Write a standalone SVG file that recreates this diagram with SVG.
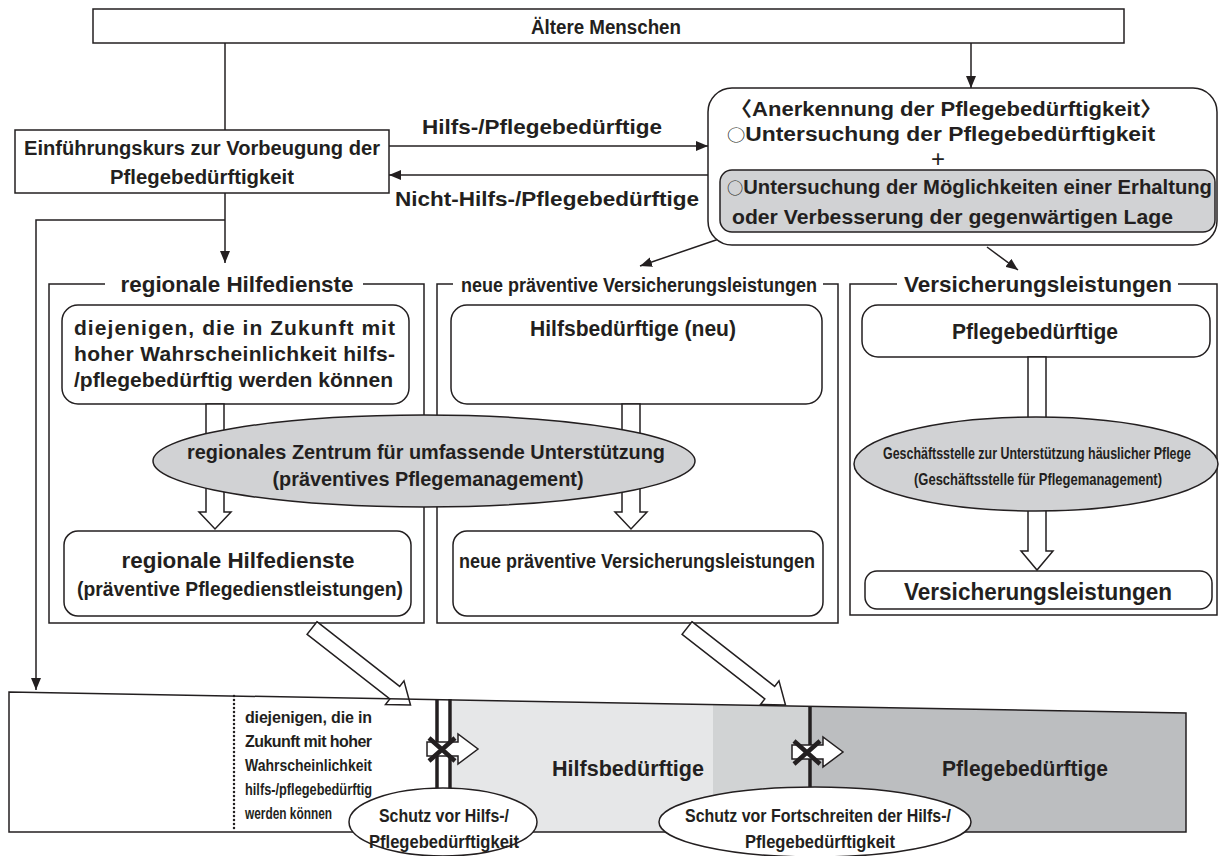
<svg xmlns="http://www.w3.org/2000/svg" width="1219" height="856" viewBox="0 0 1219 856">
  <style>
    .t { font-family: "Liberation Sans", Arial, "Noto Sans CJK JP", sans-serif; font-weight: bold; fill: #231f20; }
    .m { text-anchor: middle; }
    .ring { font-family: "Noto Sans CJK JP", sans-serif; font-weight: normal; font-size: 16px; }
    .box { fill: #ffffff; stroke: #231f20; stroke-width: 1.5; }
    .gray { fill: #d1d2d4; stroke: #231f20; stroke-width: 1.5; }
    .frame { fill: none; stroke: #231f20; stroke-width: 1.5; }
    .conn { fill: none; stroke: #231f20; stroke-width: 1.5; }
    .hollow { fill: #ffffff; stroke: #231f20; stroke-width: 1.5; stroke-linejoin: miter; }
    .bar { stroke: #231f20; stroke-width: 3.5; }
  </style>
  <defs>
    <marker id="ah" viewBox="0 0 12 10" refX="12" refY="5" markerWidth="12" markerHeight="10" markerUnits="userSpaceOnUse" orient="auto">
      <path d="M0,0 L12,5 L0,10 z" fill="#231f20"/>
    </marker>
    <!-- blocked transition: white block arrow crossed out -->
    <g id="blocked">
      <path class="hollow" d="M-15,-7 H16 V-15 L36,0 L16,15 V7 H-15 Z"/>
      <path d="M-13,-11 L13,12 M-13,12 L13,-11" stroke="#231f20" stroke-width="4.5" fill="none"/>
    </g>
    <!-- diagonal hollow arrow, length 125 -->
    <path id="diag" d="M0,-8 L105,-8 L105,-15 L125,0 L105,15 L105,8 L0,8 Z"/>
  </defs>

  <!-- connectors -->
  <g id="connectors">
    <line class="conn" x1="225" y1="43" x2="225" y2="130"/>
    <line class="conn" x1="971" y1="43" x2="971" y2="88" marker-end="url(#ah)"/>
    <line class="conn" x1="389" y1="146" x2="708" y2="146" marker-end="url(#ah)"/>
    <line class="conn" x1="708" y1="175" x2="389" y2="175" marker-end="url(#ah)"/>
    <line class="conn" x1="225" y1="193" x2="225" y2="263" marker-end="url(#ah)"/>
    <path class="conn" d="M225,220 H36 V690" marker-end="url(#ah)"/>
    <line class="conn" x1="719" y1="239" x2="640" y2="266" marker-end="url(#ah)"/>
    <line class="conn" x1="987" y1="247" x2="1018" y2="270" marker-end="url(#ah)"/>
    <text class="t m" x="542" y="134" font-size="21" textLength="240" lengthAdjust="spacingAndGlyphs">Hilfs-/Pflegebedürftige</text>
    <text class="t m" x="547" y="206" font-size="21" textLength="304" lengthAdjust="spacingAndGlyphs">Nicht-Hilfs-/Pflegebedürftige</text>
  </g>

  <!-- top node -->
  <g id="aeltere">
    <rect class="box" x="93" y="9" width="1031" height="34"/>
    <text class="t m" x="606" y="34" font-size="20" textLength="150" lengthAdjust="spacingAndGlyphs">Ältere Menschen</text>
  </g>

  <g id="einfuehrungskurs">
    <rect class="box" x="15" y="130" width="374" height="63"/>
    <text class="t m" x="202" y="155" font-size="20" textLength="356" lengthAdjust="spacingAndGlyphs">Einführungskurs zur Vorbeugung der</text>
    <text class="t m" x="202" y="184" font-size="20" textLength="184" lengthAdjust="spacingAndGlyphs">Pflegebedürftigkeit</text>
  </g>

  <g id="anerkennung">
    <rect class="box" x="708" y="88" width="509" height="157" rx="24"/>
    <text class="t" x="730" y="116" font-size="20" textLength="432" lengthAdjust="spacingAndGlyphs">〈Anerkennung der Pflegebedürftigkeit〉</text>
    <text class="t" x="727" y="141" font-size="20" textLength="428" lengthAdjust="spacingAndGlyphs"><tspan class="ring">○</tspan>Untersuchung der Pflegebedürftigkeit</text>
    <text class="m" x="938" y="167" font-size="24" font-weight="normal" font-family="Liberation Sans, sans-serif" fill="#231f20">+</text>
    <rect class="gray" x="720" y="170" width="495" height="62" rx="12" fill="#d4d4d4"/>
    <text class="t" x="727" y="194" font-size="20" textLength="485" lengthAdjust="spacingAndGlyphs"><tspan class="ring">○</tspan>Untersuchung der Möglichkeiten einer Erhaltung</text>
    <text class="t" x="732" y="224" font-size="20" textLength="441" lengthAdjust="spacingAndGlyphs">oder Verbesserung der gegenwärtigen Lage</text>
  </g>

  <!-- section frames -->
  <g id="frame-regional">
    <path class="frame" d="M105,284 H49 V623 H424 V284 H363"/>
    <text class="t m" x="237" y="292" font-size="22" textLength="233" lengthAdjust="spacingAndGlyphs">regionale Hilfedienste</text>
    <rect class="box" x="62" y="305" width="347" height="99" rx="16"/>
    <text class="t" x="74" y="335" font-size="21" textLength="321" lengthAdjust="spacing">diejenigen, die in Zukunft mit</text>
    <text class="t" x="74" y="361" font-size="21" textLength="321" lengthAdjust="spacing">hoher Wahrscheinlichkeit hilfs-</text>
    <text class="t" x="74" y="387" font-size="21" textLength="319" lengthAdjust="spacingAndGlyphs">/pflegebedürftig werden können</text>
    <path class="hollow" d="M206,404 V512 H199 L215,529 L231,512 H224 V404 Z"/>
    <rect class="box" x="64" y="531" width="347" height="85" rx="14"/>
    <text class="t m" x="238" y="568" font-size="22" textLength="233" lengthAdjust="spacingAndGlyphs">regionale Hilfedienste</text>
    <text class="t m" x="240" y="596" font-size="20" textLength="326" lengthAdjust="spacingAndGlyphs">(präventive Pflegedienstleistungen)</text>
  </g>

  <g id="frame-neu">
    <path class="frame" d="M453,284 H437 V623 H838 V284 H823"/>
    <text class="t m" x="639" y="292" font-size="20" textLength="356" lengthAdjust="spacingAndGlyphs">neue präventive Versicherungsleistungen</text>
    <rect class="box" x="451" y="305" width="371" height="99" rx="16"/>
    <text class="t m" x="633" y="336" font-size="22" textLength="206" lengthAdjust="spacingAndGlyphs">Hilfsbedürftige (neu)</text>
    <path class="hollow" d="M622,404 V512 H615 L631,529 L647,512 H640 V404 Z"/>
    <rect class="box" x="453" y="531" width="370" height="85" rx="14"/>
    <text class="t m" x="637" y="568" font-size="20" textLength="356" lengthAdjust="spacingAndGlyphs">neue präventive Versicherungsleistungen</text>
  </g>

  <g id="frame-versicherung">
    <path class="frame" d="M897,284 H850 V615 H1217 V284 H1178"/>
    <text class="t m" x="1038" y="292" font-size="22" textLength="268" lengthAdjust="spacingAndGlyphs">Versicherungsleistungen</text>
    <rect class="box" x="862" y="305" width="348" height="52" rx="16"/>
    <text class="t m" x="1035" y="339" font-size="22" textLength="166" lengthAdjust="spacingAndGlyphs">Pflegebedürftige</text>
    <path class="hollow" d="M1028,357 V551 H1021 L1037,570 L1053,551 H1046 V357 Z"/>
    <rect class="box" x="865" y="571" width="347" height="38" rx="12"/>
    <text class="t m" x="1038" y="600" font-size="23" textLength="268" lengthAdjust="spacingAndGlyphs">Versicherungsleistungen</text>
  </g>

  <!-- care management centres -->
  <g id="zentrum">
    <ellipse class="gray" cx="424" cy="461" rx="271" ry="46"/>
    <text class="t m" x="426" y="459" font-size="21" textLength="478" lengthAdjust="spacingAndGlyphs">regionales Zentrum für umfassende Unterstützung</text>
    <text class="t m" x="428" y="486" font-size="21" textLength="311" lengthAdjust="spacingAndGlyphs">(präventives Pflegemanagement)</text>
  </g>

  <g id="geschaeftsstelle">
    <ellipse class="gray" cx="1036" cy="464" rx="182" ry="47"/>
    <text class="t m" x="1037" y="459" font-size="17" textLength="308" lengthAdjust="spacingAndGlyphs">Geschäftsstelle zur Unterstützung häuslicher Pflege</text>
    <text class="t m" x="1038" y="485" font-size="17" textLength="248" lengthAdjust="spacingAndGlyphs">(Geschäftsstelle für Pflegemanagement)</text>
  </g>

  <!-- diagonal hollow arrows into the bar -->
  <g id="flow-arrows">
    <use href="#diag" class="hollow" transform="translate(312,628) rotate(38)"/>
    <use href="#diag" class="hollow" transform="translate(687,628) rotate(38)"/>
  </g>

  <!-- state bar -->
  <g id="state-bar">
    <polygon points="452,699.9 713,704.6 713,832 452,832" fill="#e6e7e8"/>
    <polygon points="713,704.6 811,706.3 811,832 713,832" fill="#d1d3d4"/>
    <polygon points="811,706.3 1186,713 1186,832 811,832" fill="#bcbec0"/>
    <polygon points="9,692 1186,713 1186,832 9,832" fill="none" stroke="#231f20" stroke-width="1.5"/>
    <line x1="234" y1="696" x2="234" y2="832" stroke="#231f20" stroke-width="2.5" stroke-dasharray="0 4" stroke-linecap="round"/>
    <text class="t" x="245" y="723" font-size="16" textLength="127" lengthAdjust="spacing">diejenigen, die in</text>
    <text class="t" x="245" y="747" font-size="16" textLength="127" lengthAdjust="spacing">Zukunft mit hoher</text>
    <text class="t" x="245" y="771" font-size="16" textLength="127" lengthAdjust="spacingAndGlyphs">Wahrscheinlichkeit</text>
    <text class="t" x="245" y="795" font-size="16" textLength="127" lengthAdjust="spacingAndGlyphs">hilfs-/pflegebedürftig</text>
    <text class="t" x="245" y="819" font-size="16" textLength="87" lengthAdjust="spacingAndGlyphs">werden können</text>
    <text class="t m" x="628" y="776" font-size="22" textLength="152" lengthAdjust="spacingAndGlyphs">Hilfsbedürftige</text>
    <text class="t m" x="1025" y="776" font-size="22" textLength="166" lengthAdjust="spacingAndGlyphs">Pflegebedürftige</text>
    <line class="bar" x1="437" y1="699" x2="437" y2="792"/>
    <line class="bar" x1="450" y1="699" x2="450" y2="792"/>
    <line class="bar" x1="810" y1="706" x2="810" y2="792"/>
    <use href="#blocked" transform="translate(442,749)"/>
    <use href="#blocked" transform="translate(807,752)"/>
  </g>

  <g id="schutz-1">
    <ellipse class="box" cx="443" cy="822" rx="94" ry="34"/>
    <text class="t m" x="444" y="822" font-size="18" textLength="130" lengthAdjust="spacingAndGlyphs">Schutz vor Hilfs-/</text>
    <text class="t m" x="444" y="848" font-size="18" textLength="150" lengthAdjust="spacingAndGlyphs">Pflegebedürftigkeit</text>
  </g>

  <g id="schutz-2">
    <ellipse class="box" cx="815" cy="822" rx="156" ry="35"/>
    <text class="t m" x="818" y="822" font-size="18" textLength="266" lengthAdjust="spacingAndGlyphs">Schutz vor Fortschreiten der Hilfs-/</text>
    <text class="t m" x="820" y="848" font-size="18" textLength="150" lengthAdjust="spacingAndGlyphs">Pflegebedürftigkeit</text>
  </g>
</svg>
